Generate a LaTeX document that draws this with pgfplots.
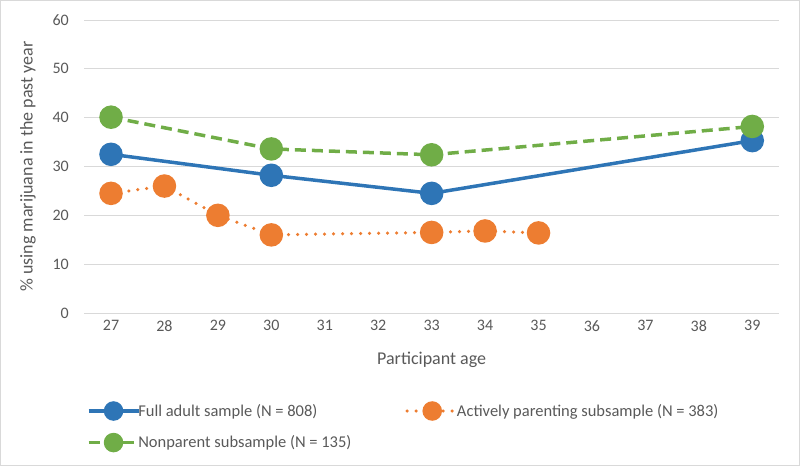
\documentclass[border=0pt]{standalone}
\usepackage{pgfplots}
\pgfplotsset{compat=1.18}
\usepackage{fontspec}
\setmainfont{Carlito}
\definecolor{sblue}{HTML}{2E75B6}
\definecolor{sorange}{HTML}{ED7D31}
\definecolor{sgreen}{HTML}{70AD47}
\definecolor{txt}{HTML}{595959}
\definecolor{grd}{HTML}{D9D9D9}
\begin{document}
\begin{tikzpicture}[x=1pt,y=1pt]
\draw[grd, line width=1pt] (0.5,0.5) rectangle (799.5,465.5);
\begin{axis}[
  at={(84.3pt,153pt)}, anchor=south west,
  scale only axis, width=694.7pt, height=293pt,
  xmin=26.5, xmax=39.5, ymin=0, ymax=60,
  xtick={27,...,39}, ytick={0,10,...,60},
  axis x line*=bottom, axis y line*=left,
  x axis line style={grd, line width=1pt, -},
  y axis line style={draw=none},
  ymajorgrids, grid style={grd, line width=1pt},
  major tick length=0pt,
  tick label style={font=\fontsize{16}{18}\selectfont, text=txt},
  /pgf/number format/assume math mode=true,
  xticklabel style={yshift=-4pt},
  yticklabel style={xshift=-12pt},
  xlabel={Participant age}, ylabel={\% using marijuana in the past year},
  label style={font=\fontsize{18}{20}\selectfont, text=txt},
  xlabel style={yshift=-14pt},
  ylabel style={yshift=10pt},
  legend columns=2,
  legend style={at={(-0.001,-0.297)}, anchor=north west, draw=none, fill=none,
    font=\fontsize{16.5}{19}\selectfont, text=txt, row sep=14pt,
    /tikz/every odd column/.append style={column sep=-4pt},
    /tikz/every even column/.append style={column sep=52pt}},
  legend cell align=left,
  legend image code/.code={
    \draw[#1, mark=none] (0pt,0pt) -- (50pt,0pt);
    \draw[#1, mark size=8pt] plot coordinates {(25pt,0pt)};
  },
  clip=false,
]
\addplot[sblue, line width=3.5pt, mark=*, mark size=10pt, mark options={solid}]
  coordinates {(27,32.5) (30,28.2) (33,24.5) (39,35.3)};
\addlegendentry{Full adult sample (N = 808)}
\addplot[sorange, line width=3.5pt, line cap=round, dash pattern=on 0pt off 9pt, mark=*, mark size=10pt, mark options={solid}]
  coordinates {(27,24.5) (28,26.0) (29,20.0) (30,16.0) (33,16.5) (34,16.8) (35,16.4)};
\addlegendentry{Actively parenting subsample (N = 383)}
\addplot[sgreen, line width=3.5pt, dash pattern=on 11pt off 6pt, mark=*, mark size=10pt, mark options={solid}]
  coordinates {(27,40.1) (30,33.6) (33,32.4) (39,38.2)};
\addlegendentry{Nonparent subsample (N = 135)}
\end{axis}
\end{tikzpicture}
\end{document}
